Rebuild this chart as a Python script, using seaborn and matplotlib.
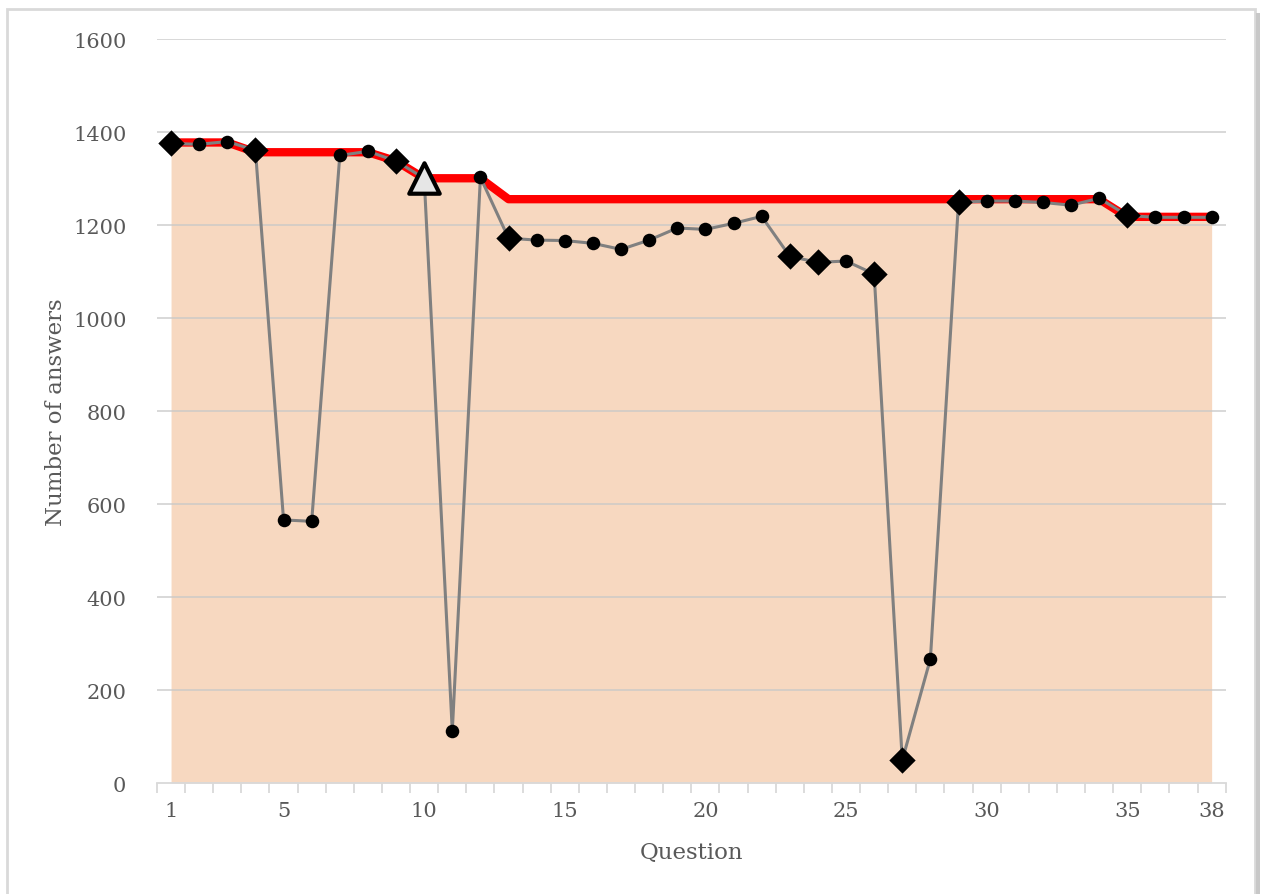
import numpy as np
import pandas as pd
import seaborn as sns
import matplotlib.pyplot as plt
from matplotlib.patches import Rectangle

# answers per question
questions = list(range(1, 39))
answers = [1376, 1374, 1380, 1361, 566, 563, 1350, 1359, 1338, 1301,
           112, 1303, 1172, 1168, 1167, 1161, 1148, 1168, 1194, 1191,
           1204, 1219, 1133, 1120, 1123, 1095, 49, 267, 1249, 1252,
           1252, 1249, 1243, 1258, 1221, 1217, 1217, 1217]
# upper envelope (red line)
envelope = [1378, 1378, 1378, 1357, 1357, 1357, 1357, 1357, 1338, 1301,
            1301, 1301, 1256, 1256, 1256, 1256, 1256, 1256, 1256, 1256,
            1256, 1256, 1256, 1256, 1256, 1256, 1256, 1256, 1256, 1256,
            1256, 1256, 1256, 1256, 1218, 1218, 1218, 1218]
diamond_q = [1, 4, 9, 13, 23, 24, 26, 27, 29, 35]
triangle_q = [10]
tick_labels = [1, 5, 10, 15, 20, 25, 30, 35, 38]

df = pd.DataFrame({'question': questions, 'answers': answers, 'envelope': envelope})
df['kind'] = 'dot'
df.loc[df['question'].isin(diamond_q), 'kind'] = 'diamond'
df.loc[df['question'].isin(triangle_q), 'kind'] = 'triangle'

sns.set_style('white')
plt.rcParams['font.family'] = ['DejaVu Serif']

fig = plt.figure(figsize=(12.61, 8.95), dpi=100)
ax = fig.add_axes([0.1245, 0.124, 0.8475, 0.831])

ax.fill_between(df['question'], 0, df['envelope'], color='#f7d8c0', lw=0, zorder=1)
for y in range(200, 1601, 200):
    ax.axhline(y, color='#c8c8c8', lw=1.4, alpha=0.7, zorder=2)

sns.lineplot(data=df, x='question', y='envelope', color='#ff0000', lw=6, ax=ax, zorder=3)
sns.lineplot(data=df, x='question', y='answers', color='#808080', lw=2.2, ax=ax, zorder=4)

dots = df[df['kind'] == 'dot']
dia = df[df['kind'] == 'diamond']
tri = df[df['kind'] == 'triangle']
sns.scatterplot(data=dots, x='question', y='answers', color='black', s=95,
                marker='o', linewidth=0, ax=ax, zorder=5)
sns.scatterplot(data=dia, x='question', y='answers', color='black', s=180,
                marker='D', linewidth=0, ax=ax, zorder=5)
sns.scatterplot(data=tri, x='question', y='answers', color='#e6e6e6', s=480,
                marker='^', edgecolor='black', linewidth=3, ax=ax, zorder=6)

ax.set_xlim(0.5, 38.5)
ax.set_ylim(0, 1600)
ax.set_yticks(range(0, 1601, 200))
ax.set_xticks(tick_labels)
ax.set_xticks(np.arange(0.5, 39, 1), minor=True)
ax.tick_params(axis='x', which='major', length=0, pad=13, labelsize=15, labelcolor='#595959')
ax.tick_params(axis='x', which='minor', length=7, width=1.3, color='#d9d9d9', direction='out', bottom=True)
ax.tick_params(axis='y', length=0, pad=22, labelsize=15, labelcolor='#595959')

for s in ['left', 'right', 'top']:
    ax.spines[s].set_visible(False)
ax.spines['bottom'].set_color('#d9d9d9')
ax.spines['bottom'].set_linewidth(1.3)
ax.spines['bottom'].set_zorder(7)

ax.set_xlabel('Question', fontsize=16.5, color='#595959', labelpad=15)
ax.set_ylabel('Number of answers', fontsize=16.5, color='#595959', labelpad=4)

# outer frame of the chart
fig.patches.append(Rectangle((7 / 1261, -0.05), 1248 / 1261, 1.05 - 10 / 895,
                             transform=fig.transFigure, fill=False,
                             edgecolor='#d9d9d9', lw=2))
fig.patches.append(Rectangle((1256 / 1261, -0.05), 4 / 1261, 1.05 - 14 / 895,
                             transform=fig.transFigure, facecolor='#c8c8c8',
                             edgecolor='none'))

fig.savefig('out.png', dpi=100)
